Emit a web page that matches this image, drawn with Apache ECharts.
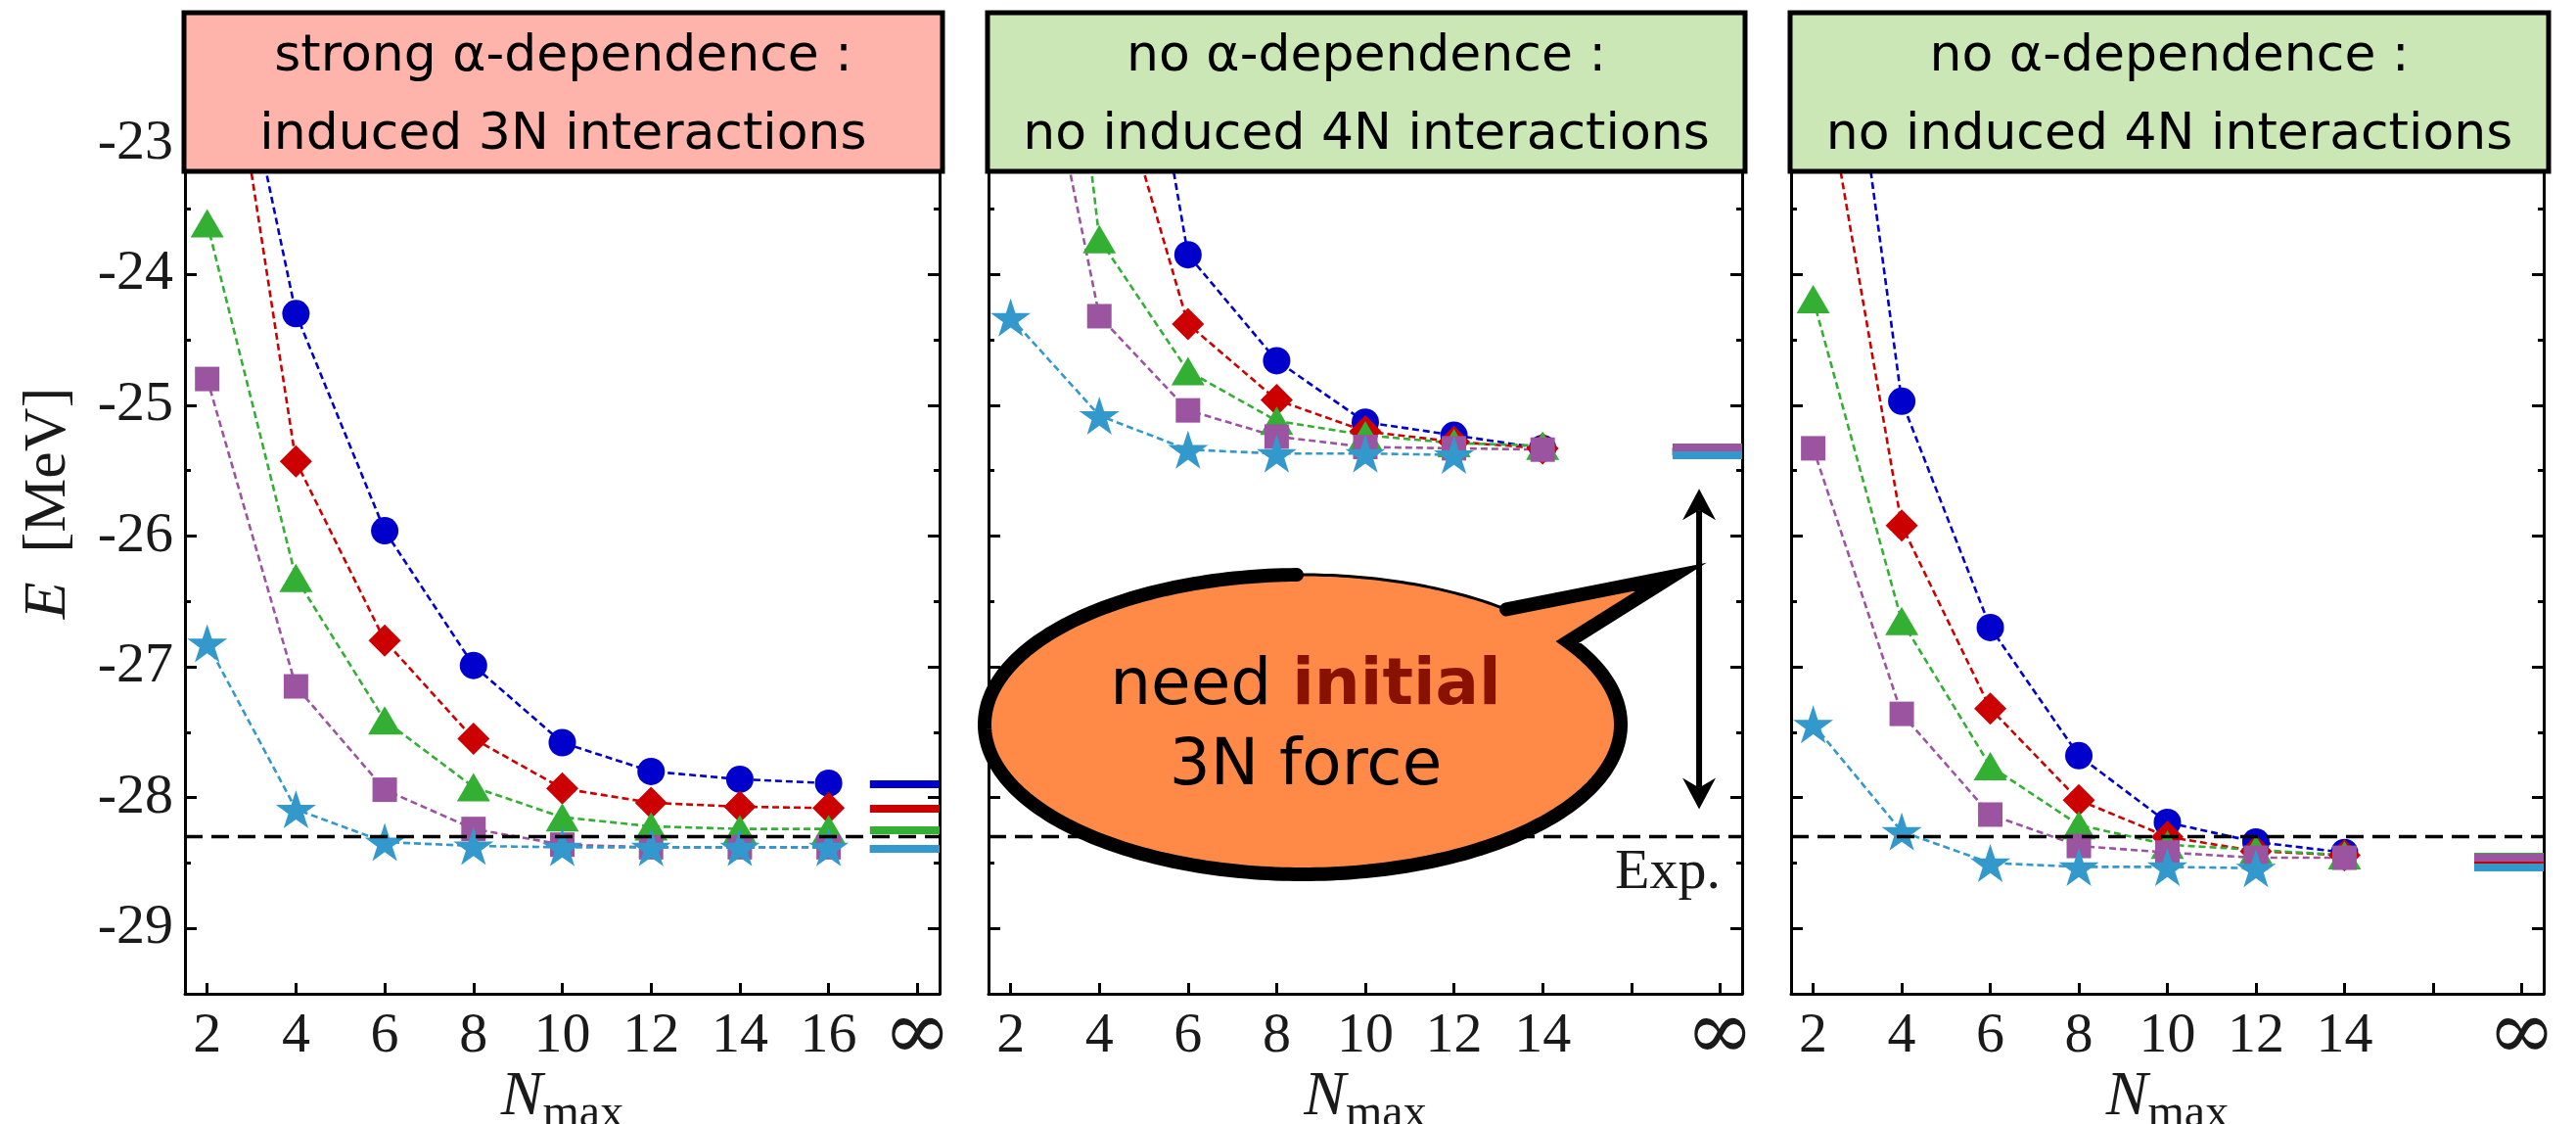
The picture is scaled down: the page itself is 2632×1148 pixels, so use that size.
<!DOCTYPE html>
<html><head><meta charset="utf-8">
<script src="https://cdn.jsdelivr.net/npm/echarts@6/dist/echarts.min.js"></script>
<style>html,body{margin:0;padding:0;background:#fff}#c{width:2632px;height:1148px}</style>
</head><body><div id="c"></div>
<script>
// ---------------- data ----------------
const nmaxA = [2, 4, 6, 8, 10, 12, 14, 16];
const nmaxB = [2, 4, 6, 8, 10, 12, 14];
const nmaxC = [2, 4, 6, 8, 10, 12, 14];

const blueA   = [-21.07, -24.30, -25.96, -26.99, -27.58, -27.80, -27.86, -27.89];
const redA    = [-21.03, -25.43, -26.80, -27.55, -27.93, -28.04, -28.07, -28.08];
const greenA  = [-23.61, -26.32, -27.41, -27.92, -28.15, -28.22, -28.24, -28.24];
const purpleA = [-24.80, -27.15, -27.94, -28.24, -28.36, -28.38, -28.38, -28.38];
const cyanA   = [-26.82, -28.09, -28.34, -28.37, -28.38, -28.38, -28.38, -28.38];
const infA    = [-27.90, -28.08, -28.25, -28.39, -28.39];

const blueB   = [-15.50, -19.92, -23.85, -24.66, -25.13, -25.23, -25.33];
const redB    = [-18.50, -22.05, -24.38, -24.96, -25.20, -25.28, -25.33];
const greenB  = [-17.85, -23.73, -24.74, -25.12, -25.23, -25.29, -25.31];
const purpleB = [-20.98, -24.32, -25.04, -25.24, -25.32, -25.33, -25.34];
const cyanB   = [-24.33, -25.08, -25.34, -25.37, -25.37, -25.38];
const infB    = [-25.35, -25.35, -25.35, -25.32, -25.38];

const blueC   = [-19.95, -24.97, -26.70, -27.68, -28.19, -28.34, -28.42];
const redC    = [-22.00, -25.92, -27.32, -28.02, -28.30, -28.41, -28.44];
const greenC  = [-24.19, -26.65, -27.76, -28.21, -28.36, -28.40, -28.44];
const purpleC = [-25.33, -27.36, -28.13, -28.37, -28.42, -28.46, -28.46];
const cyanC   = [-27.44, -28.26, -28.50, -28.53, -28.53, -28.54];
const infC    = [-28.50, -28.49, -28.45, -28.46, -28.53];

const expValue = -28.30;
const infPosition = 18;
const xTickValues = [2, 4, 6, 8, 10, 12, 14, 16, 18];
const xLabelsA = [2, 4, 6, 8, 10, 12, 14, 16, 18];
const xLabelsBC = [2, 4, 6, 8, 10, 12, 14, 18];
const yMajorTicks = [-29, -28, -27, -26, -25, -24, -23];
const yMinorTicks = [-29.5, -28.5, -27.5, -26.5, -25.5, -24.5, -23.5, -22.5];
const arrowX = 17.53, arrowFrom = -25.64, arrowTo = -28.09;

const titles = [
  ['strong α-dependence :', 'induced 3N interactions'],
  ['no α-dependence :', 'no induced 4N interactions'],
  ['no α-dependence :', 'no induced 4N interactions']
];

// ---------------- layout & style ----------------
const GRID_TOP = 13, GRID_H = 1002, BOX_H = 162;
const grids = [
  { left: 189, width: 771 },
  { left: 1010, width: 770 },
  { left: 1830, width: 769 }
];
const X_MIN = 1.5, X_MAX = 18.5, Y_MIN = -29.5, Y_MAX = -22;
const INF_BAR_START = 16.93;
// value at the bottom edge of the title boxes: markers above it are hidden by the box
const BOX_EDGE_VALUE = Y_MAX - (BOX_H + 4) / GRID_H * (Y_MAX - Y_MIN);
const boxColors = ['#FFB4AB', '#CCE7B6', '#CCE7B6'];

const STAR = 'path://M50,0 L61.23,34.55 L97.55,34.55 L68.16,55.9 L79.39,90.45 L50,69.1 L20.61,90.45 L31.84,55.9 L2.45,34.55 L38.77,34.55 Z';
const markers = [
  { color: '#0000CC', symbol: 'circle', size: 28 },
  { color: '#CC0000', symbol: 'diamond', size: [33, 33] },
  { color: '#33B033', symbol: 'triangle', size: [34, 29] },
  { color: '#9B55A0', symbol: 'rect', size: 25 },
  { color: '#3399CC', symbol: STAR, size: [41, 39] }
];

const panels = [
  { x: nmaxA, series: [blueA, redA, greenA, purpleA, cyanA], inf: infA, labels: xLabelsA },
  { x: nmaxB, series: [blueB, redB, greenB, purpleB, cyanB], inf: infB, labels: xLabelsBC },
  { x: nmaxC, series: [blueC, redC, greenC, purpleC, cyanC], inf: infC, labels: xLabelsBC }
];

const serif = 'Liberation Serif';
const txt = '#1a1a1a';

const gridOpt = grids.map(g => ({
  left: g.left, top: GRID_TOP, width: g.width, height: GRID_H,
  containLabel: false, outerBoundsMode: 'none'
}));

const xAxes = panels.map((p, i) => ({
  type: 'value', gridIndex: i, min: X_MIN, max: X_MAX, position: 'bottom',
  splitLine: { show: false },
  axisLine: { show: true, onZero: false, lineStyle: { color: '#000', width: 3 } },
  axisTick: { show: true, inside: true, length: 11, customValues: xTickValues, lineStyle: { color: '#000', width: 3 } },
  axisLabel: {
    show: true, customValues: p.labels, margin: 14,
    formatter: v => (v === infPosition ? '{inf|∞}' : '{d|' + v + '}'),
    fontFamily: serif, fontSize: 58, color: txt,
    rich: {
      d: { fontFamily: serif, fontSize: 58, lineHeight: 60, color: txt },
      inf: { fontFamily: 'DejaVu Serif', fontSize: 84, lineHeight: 60, color: txt }
    }
  },
  name: '{n|N}{s|max}', nameLocation: 'middle', nameGap: 83, nameMoveOverlap: false,
  nameTextStyle: {
    rich: {
      n: { fontFamily: serif, fontStyle: 'italic', fontSize: 64, color: txt, lineHeight: 64, padding: [0, 0, 9, 0], verticalAlign: 'bottom' },
      s: { fontFamily: serif, fontSize: 48, color: txt, lineHeight: 48, verticalAlign: 'bottom' }
    }
  }
}));

const yAxes = [];
panels.forEach((p, i) => {
  const base = {
    type: 'value', gridIndex: i, min: Y_MIN, max: Y_MAX,
    splitLine: { show: false }, axisLabel: { show: false },
    axisLine: { show: false, onZero: false }
  };
  const tick = (vals, len) => ({ show: true, inside: true, length: len, customValues: vals, lineStyle: { color: '#000', width: 3 } });
  const line = { show: true, onZero: false, lineStyle: { color: '#000', width: 3 } };
  const left = Object.assign({}, base, {
    position: 'left', axisLine: line, axisTick: tick(yMajorTicks, 12)
  });
  if (i === 0) {
    left.axisLabel = {
      show: true, customValues: yMajorTicks, margin: 12,
      formatter: v => '{d|' + v + '}',
      fontFamily: serif, fontSize: 58, color: txt,
      rich: { d: { fontFamily: serif, fontSize: 58, color: txt } }
    };
    left.name = '{e|E}{m|[MeV]}';
    left.nameLocation = 'middle';
    left.nameRotate = 90;
    left.nameGap = 108;
    left.nameMoveOverlap = false;
    left.nameTextStyle = {
      rich: {
        e: { fontFamily: serif, fontStyle: 'italic', fontSize: 62, color: txt, padding: [0, 30, 0, 0] },
        m: { fontFamily: serif, fontSize: 62, color: txt }
      }
    };
  }
  yAxes.push(left);
  yAxes.push(Object.assign({}, base, { position: 'left', axisTick: tick(yMinorTicks, 6) }));
  yAxes.push(Object.assign({}, base, { position: 'right', axisLine: line, axisTick: tick(yMajorTicks, 12) }));
  yAxes.push(Object.assign({}, base, { position: 'right', axisTick: tick(yMinorTicks, 6) }));
});

const series = [];
panels.forEach((p, i) => {
  series.push({
    type: 'line', xAxisIndex: i, yAxisIndex: 4 * i, data: [], z: 1, silent: true,
    markLine: {
      silent: true, symbol: ['none', 'none'], label: { show: false }, animation: false,
      lineStyle: { color: '#000', width: 3.3, type: [18, 9] },
      emphasis: { disabled: true },
      data: [{ yAxis: expValue }]
    }
  });
  p.series.forEach((vals, k) => {
    const m = markers[k];
    series.push({
      type: 'line', xAxisIndex: i, yAxisIndex: 4 * i, z: 2, silent: true, clip: true,
      data: vals.map((v, j) => [p.x[j], v]),
      symbol: m.symbol, showSymbol: true, symbolKeepAspect: false,
      symbolSize: val => (val[1] > BOX_EDGE_VALUE ? 0 : m.size),
      itemStyle: { color: m.color, opacity: 1 },
      lineStyle: { color: m.color, width: 2.6, type: [7, 4] },
      emphasis: { disabled: true },
      markLine: {
        silent: true, symbol: ['none', 'none'], label: { show: false }, animation: false,
        lineStyle: { color: m.color, width: 8, type: 'solid' },
        emphasis: { disabled: true },
        data: [[{ coord: [INF_BAR_START, p.inf[k]] }, { coord: [X_MAX, p.inf[k]] }]]
      }
    });
  });
});

const chart = echarts.init(document.getElementById('c'), null, { renderer: 'canvas' });
chart.setOption({
  animation: false,
  backgroundColor: '#fff',
  textStyle: { fontFamily: serif },
  grid: gridOpt,
  xAxis: xAxes,
  yAxis: yAxes,
  series: series
});

// ---------------- annotations ----------------
const graphics = [];
grids.forEach((g, i) => {
  const bx = g.left - 1, bw = g.width + 4 + (i === 2 ? 2 : 0);
  graphics.push({
    type: 'rect', z: 100, silent: true,
    shape: { x: bx, y: GRID_TOP, width: bw, height: BOX_H },
    style: { fill: boxColors[i], stroke: '#000', lineWidth: 5 }
  });
  [58, 138].forEach((yy, l) => {
    graphics.push({
      type: 'text', z: 101, silent: true,
      style: { text: titles[i][l], x: bx + bw / 2, y: yy, align: 'center', verticalAlign: 'middle',
        fontFamily: 'DejaVu Sans', fontSize: 52, fill: '#000' }
    });
  });
});

// speech bubble (ellipse + tail), decoration in pixel space
const BC = { cx: 1331, cy: 740, rx: 325, ry: 153 };
const deg = Math.PI / 180;
function arcPts(t0, t1, n) {
  const pts = [];
  for (let s = 0; s <= n; s++) {
    const t = (t0 + (t1 - t0) * s / n) * deg;
    pts.push([BC.cx + BC.rx * Math.cos(t), BC.cy + BC.ry * Math.sin(t)]);
  }
  return pts;
}
const tA = -50.2, tB = -33.5, tP = -91.06;
const tip = [1708, 589];
const fillPts = arcPts(tB, tA + 360, 240).concat([tip]);
graphics.push({
  type: 'polygon', z: 110, silent: true,
  shape: { points: fillPts },
  style: { fill: '#FF8A48', stroke: null }
});
const thickPts = arcPts(tP, tB - 360, 240).concat([tip]).concat(arcPts(tA, tA, 1).slice(0, 1));
graphics.push({
  type: 'polyline', z: 111, silent: true,
  shape: { points: thickPts },
  style: { fill: null, stroke: '#000', lineWidth: 14, lineJoin: 'miter', miterLimit: 20, lineCap: 'round' }
});
graphics.push({
  type: 'polyline', z: 111, silent: true,
  shape: { points: arcPts(tA, tP, 40) },
  style: { fill: null, stroke: '#000', lineWidth: 3 }
});
graphics.push({
  type: 'text', z: 112, silent: true,
  style: {
    text: '{a|need }{b|initial}\n{a|3N force}', x: 1334, y: 743, align: 'center', verticalAlign: 'middle',
    rich: {
      a: { fontFamily: 'DejaVu Sans', fontSize: 66, lineHeight: 82, fill: '#000' },
      b: { fontFamily: 'DejaVu Sans', fontWeight: 'bold', fontSize: 66, lineHeight: 82, fill: '#881100' }
    }
  }
});

// Exp. label
graphics.push({
  type: 'text', z: 100, silent: true,
  style: { text: 'Exp.', x: 1758, y: 892, align: 'right', verticalAlign: 'middle', fontFamily: serif, fontSize: 58, fill: txt }
});

// double arrow from data coords
const pTop = chart.convertToPixel({ xAxisIndex: 1, yAxisIndex: 4 }, [arrowX, arrowFrom]);
const pBot = chart.convertToPixel({ xAxisIndex: 1, yAxisIndex: 4 }, [arrowX, arrowTo]);
const AH = 32, AW = 17, AN = 22;
graphics.push({
  type: 'line', z: 100, silent: true,
  shape: { x1: pTop[0], y1: pTop[1] + AN, x2: pBot[0], y2: pBot[1] - AN },
  style: { stroke: '#000', lineWidth: 6 }
});
graphics.push({
  type: 'polygon', z: 100, silent: true,
  shape: { points: [[pTop[0], pTop[1]], [pTop[0] + AW, pTop[1] + AH], [pTop[0], pTop[1] + AN], [pTop[0] - AW, pTop[1] + AH]] },
  style: { fill: '#000' }
});
graphics.push({
  type: 'polygon', z: 100, silent: true,
  shape: { points: [[pBot[0], pBot[1]], [pBot[0] + AW, pBot[1] - AH], [pBot[0], pBot[1] - AN], [pBot[0] - AW, pBot[1] - AH]] },
  style: { fill: '#000' }
});

chart.setOption({ graphic: graphics });
</script>
</body></html>
